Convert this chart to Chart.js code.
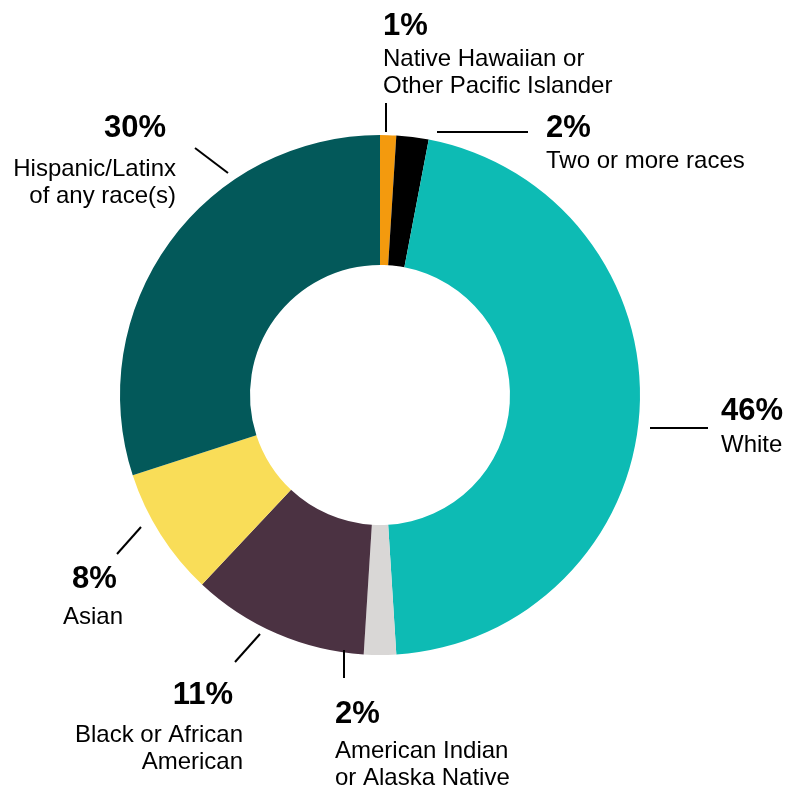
<!DOCTYPE html>
<html>
<head>
<meta charset="utf-8">
<title>Race / ethnicity breakdown</title>
<script src="https://cdn.jsdelivr.net/npm/chart.js@4/dist/chart.umd.min.js"></script>
<style>
  html, body { margin: 0; padding: 0; background: #fff; }
  #wrap { width: 801px; height: 791px; }
</style>
</head>
<body>
<div id="wrap"><canvas id="raceChart" width="801" height="791"></canvas></div>
<script>
// categories in drawing order, clockwise from 12 o'clock
const categories = [
  ["Native Hawaiian or", "Other Pacific Islander"],
  ["Two or more races"],
  ["White"],
  ["American Indian", "or Alaska Native"],
  ["Black or African", "American"],
  ["Asian"],
  ["Hispanic/Latinx", "of any race(s)"]
];
const shares = [1, 2, 46, 2, 11, 8, 30];
const sliceColors = ["#f39a0e", "#000000", "#0dbbb4", "#d9d7d6", "#4b3242", "#f9dd58", "#03595a"];

// label placement, offsets from the donut centre
// line: leader [x1, y1, x2, y2]; pct: bold value; text: name lines
const labelLayout = [
  { line: [6, -292, 6, -263], pct: { x: 3, y: -360, align: "left" }, text: { x: 3, ys: [-329, -302], align: "left" } },
  { line: [57, -263, 148, -263], pct: { x: 166, y: -258, align: "left" }, text: { x: 166, ys: [-227], align: "left" } },
  { line: [270, 33, 328, 33], pct: { x: 341, y: 25, align: "left" }, text: { x: 341, ys: [57], align: "left" } },
  { line: [-36, 255, -36, 283], pct: { x: -45, y: 328, align: "left" }, text: { x: -45, ys: [363, 390], align: "left" } },
  { line: [-120, 239, -145, 267], pct: { x: -147, y: 309, align: "right" }, text: { x: -137, ys: [347, 374], align: "right" } },
  { line: [-239, 132, -263, 159], pct: { x: -308, y: 193, align: "left" }, text: { x: -317, ys: [229], align: "left" } },
  { line: [-152, -222, -185, -247], pct: { x: -214, y: -258, align: "right" }, text: { x: -204, ys: [-219, -192], align: "right" } }
];

const FONT = '"Liberation Sans", Arial, Helvetica, sans-serif';

const calloutPlugin = {
  id: "callouts",
  afterDatasetsDraw(chart) {
    const ctx = chart.ctx;
    const arc = chart.getDatasetMeta(0).data[0];
    const cx = arc.x, cy = arc.y;
    ctx.save();
    ctx.strokeStyle = "#000";
    ctx.fillStyle = "#000";
    ctx.lineWidth = 2;
    labelLayout.forEach((lay, i) => {
      const [x1, y1, x2, y2] = lay.line;
      ctx.beginPath();
      ctx.moveTo(cx + x1, cy + y1);
      ctx.lineTo(cx + x2, cy + y2);
      ctx.stroke();

      ctx.textBaseline = "alphabetic";
      ctx.font = "bold 31px " + FONT;
      ctx.textAlign = lay.pct.align;
      ctx.fillText(shares[i] + "%", cx + lay.pct.x, cy + lay.pct.y);

      ctx.font = "24px " + FONT;
      ctx.textAlign = lay.text.align;
      categories[i].forEach((ln, j) => {
        ctx.fillText(ln, cx + lay.text.x, cy + lay.text.ys[j]);
      });
    });
    ctx.restore();
  }
};

new Chart(document.getElementById("raceChart").getContext("2d"), {
  type: "doughnut",
  data: {
    labels: categories,
    datasets: [{
      data: shares,
      backgroundColor: sliceColors,
      borderWidth: 0
    }]
  },
  options: {
    responsive: false,
    animation: false,
    cutout: "50%",
    layout: { padding: { left: 120, right: 161, top: 135, bottom: 136 } },
    plugins: {
      legend: { display: false },
      tooltip: { enabled: false }
    }
  },
  plugins: [calloutPlugin]
});
</script>
</body>
</html>
